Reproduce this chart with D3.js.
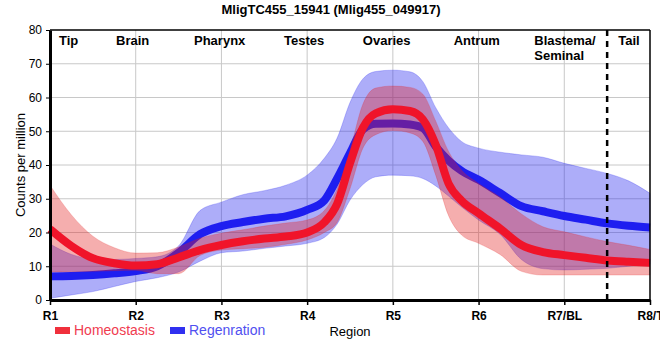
<!DOCTYPE html>
<html>
<head>
<meta charset="utf-8">
<script src="https://cdn.jsdelivr.net/npm/d3@7"></script>
<style>
body { margin: 0; background: #fff; }
svg { font-family: "Liberation Sans", Arial, sans-serif; }
.grid line { stroke: #c8c8c8; stroke-width: 1; }
.axis path, .axis line { stroke: #000; }
.axis text { fill: #000; }
</style>
</head>
<body>
<svg id="chart" width="660" height="360"></svg>
<script>
// region positions along the body (1 = R1 ... 8 = R8/Tail)
const positions = [1, 1.25, 1.5, 1.75, 2, 2.25, 2.5, 2.75, 3, 3.25, 3.5, 3.75, 4, 4.2, 4.35, 4.5, 4.65, 4.8,
                   5, 5.2, 5.35, 5.5, 5.65, 5.8, 6, 6.25, 6.5, 6.75, 7, 7.25, 7.5, 7.75, 8];

const homeoMean = [21, 16, 12.4, 10.9, 10.2, 10.6, 12.6, 14.8, 16.3, 17.4, 18.2, 18.8, 20, 23, 28.5, 40.5, 51, 55.3,
                   56.5, 56, 53.5, 46, 34.5, 29.5, 25.7, 21.2, 16.3, 14.2, 13.3, 12.5, 11.7, 11.3, 11];
const homeoHigh = [34, 25.2, 18.9, 15.5, 13.9, 14, 15.7, 18.3, 19.8, 20.8, 21.9, 22.8, 23.7, 26.5, 33, 44.4, 58, 62.8,
                   63.4, 63, 61, 53, 44, 38.5, 34.5, 30.5, 25.5, 21.7, 20.2, 18.7, 17.3, 16.2, 15];
const homeoLow = [8.3, 8.4, 8.5, 8.7, 8.8, 7.8, 7.8, 13.2, 14.8, 15.2, 15.6, 16.5, 17.8, 20, 23, 33, 45, 49,
                  50.2, 49.5, 47, 37, 25, 19.3, 16.8, 13.5, 8.5, 7.4, 7.4, 7.4, 7.4, 7.4, 7.4];

const regenMean = [7, 7.1, 7.4, 7.9, 8.6, 10, 14, 19.5, 21.9, 23.1, 24.1, 24.8, 26.7, 29.5, 36, 43.5, 50.5, 52.2,
                   52.3, 52, 51, 45.5, 41.3, 38.3, 35.6, 31.7, 27.8, 26.3, 24.9, 23.8, 22.7, 22, 21.5];
const regenHigh = [16.6, 13.5, 12.2, 12, 12.3, 12.8, 16, 26.5, 29, 31.2, 32.4, 34, 37, 42, 48, 58.5, 65.5, 67.7,
                   68.1, 67.6, 64.7, 57, 51, 47, 45, 43.8, 43, 42.3, 40.5, 39, 37.5, 35.3, 31.6];
const regenLow = [0.5, 1.5, 2.5, 4, 5.5, 6.6, 8.3, 11.5, 14, 14.5, 15.3, 16, 16.8, 18.5, 22.5, 29.6, 34.2, 36.5,
                  37, 36.8, 36, 33.8, 30.8, 27.6, 23.7, 19.5, 12, 9.3, 8.9, 9.1, 9.4, 10, 10.6];

const tickLabels = ["R1", "R2", "R3", "R4", "R5", "R6", "R7/BL", "R8/T"];
const regionNames = [["Tip"], ["Brain"], ["Pharynx"], ["Testes"], ["Ovaries"], ["Antrum"], ["Blastema/", "Seminal"], ["Tail"]];
const tailBoundary = 7.5;

// layout
const regionAnchor = [1.105, 1.77, 2.68, 3.73, 4.65, 5.71, 6.65, 7.63];
const plotLeft = 50, plotRight = 650, plotTop = 30, plotBottom = 300;

const svg = d3.select('#chart');
const x = d3.scaleLinear().domain([1, 8]).range([plotLeft, plotRight]);
const y = d3.scaleLinear().domain([0, 80]).range([plotBottom, plotTop]);

// grid
const grid = svg.append('g').attr('class', 'grid');
grid.selectAll('.gy').data(d3.range(10, 80, 10)).enter().append('line')
    .attr('x1', plotLeft).attr('x2', plotRight)
    .attr('y1', d => y(d)).attr('y2', d => y(d));
grid.selectAll('.gx').data(d3.range(2, 8)).enter().append('line')
    .attr('x1', d => x(d)).attr('x2', d => x(d))
    .attr('y1', plotTop).attr('y2', plotBottom);

const rows = positions.map((p, i) => ({
    p: p,
    hm: homeoMean[i], hh: homeoHigh[i], hl: homeoLow[i],
    rm: regenMean[i], rh: regenHigh[i], rl: regenLow[i]
}));

const curve = d3.curveMonotoneX;
const band = (hi, lo) => d3.area().curve(curve)
    .x(d => x(d.p)).y0(d => y(d[lo])).y1(d => y(d[hi]));
const line = key => d3.line().curve(curve).x(d => x(d.p)).y(d => y(d[key]));

// regeneration band + line, then homeostasis band + line on top
svg.append('path').datum(rows).attr('d', band('rh', 'rl'))
    .attr('fill', 'rgb(40,40,240)').attr('fill-opacity', 0.38)
    .attr('stroke', 'rgb(40,40,240)').attr('stroke-opacity', 0.25);
svg.append('path').datum(rows).attr('d', line('rm'))
    .attr('fill', 'none').attr('stroke', '#1e1ef0').attr('stroke-width', 8);

svg.append('path').datum(rows).attr('d', band('hh', 'hl'))
    .attr('fill', 'rgb(228,30,30)').attr('fill-opacity', 0.36)
    .attr('stroke', 'rgb(228,30,30)').attr('stroke-opacity', 0.2);
svg.append('path').datum(rows).attr('d', line('hm'))
    .attr('fill', 'none').attr('stroke', '#f0142a').attr('stroke-width', 8);

// tail boundary
svg.append('line')
    .attr('x1', x(tailBoundary)).attr('x2', x(tailBoundary))
    .attr('y1', plotTop).attr('y2', plotBottom + 4)
    .attr('stroke', '#000').attr('stroke-width', 2.5).attr('stroke-dasharray', '6,5');

// frame
svg.append('line').attr('x1', plotLeft).attr('x2', plotRight).attr('y1', plotTop).attr('y2', plotTop)
    .attr('stroke', '#000').attr('stroke-width', 1.5);
svg.append('line').attr('x1', plotRight).attr('x2', plotRight).attr('y1', plotTop).attr('y2', plotBottom)
    .attr('stroke', '#000').attr('stroke-width', 1.5);

// axes
const yAxis = svg.append('g').attr('class', 'axis')
    .attr('transform', 'translate(' + plotLeft + ',0)')
    .call(d3.axisLeft(y).tickValues(d3.range(0, 81, 10)).tickSize(4).tickSizeOuter(0));
yAxis.select('.domain').attr('stroke-width', 3);
yAxis.selectAll('text').attr('font-size', 12).attr('dx', '-1');

const xAxis = svg.append('g').attr('class', 'axis')
    .attr('transform', 'translate(0,' + plotBottom + ')')
    .call(d3.axisBottom(x).tickValues(d3.range(1, 9)).tickFormat((d, i) => tickLabels[i]).tickSize(5).tickSizeOuter(0));
xAxis.select('.domain').attr('stroke-width', 3);
xAxis.selectAll('line').attr('stroke-width', 1.5);
xAxis.selectAll('text').attr('font-size', 12).attr('font-weight', 'bold').attr('dy', '1.0em');

// region names along the top
const names = svg.append('g');
regionNames.forEach((lines, i) => {
    const t = names.append('text')
        .attr('x', x(regionAnchor[i])).attr('y', plotTop + 15)
        .attr('font-size', 13).attr('font-weight', 'bold');
    lines.forEach((s, j) => {
        t.append('tspan').attr('x', x(regionAnchor[i])).attr('dy', j ? 15 : 0).text(s);
    });
});

// title and axis labels
svg.append('text').attr('x', 331).attr('y', 14).attr('text-anchor', 'middle')
    .attr('font-size', 13).attr('font-weight', 'bold')
    .text('MligTC455_15941 (Mlig455_049917)');
svg.append('text').attr('transform', 'translate(25,' + ((plotTop + plotBottom) / 2) + ') rotate(-90)')
    .attr('text-anchor', 'middle').attr('font-size', 13)
    .text('Counts per million');
svg.append('text').attr('x', (plotLeft + plotRight) / 2).attr('y', 336).attr('text-anchor', 'middle')
    .attr('font-size', 13).text('Region');

// legend
const legend = [
    { name: 'Homeostasis', box: '#f0303c', text: '#f03c50', x: 55 },
    { name: 'Regenration', box: '#3030f0', text: '#5050f0', x: 170 }
];
const lg = svg.append('g').selectAll('g').data(legend).enter().append('g')
    .attr('transform', d => 'translate(' + d.x + ',330)');
lg.append('rect').attr('x', 0).attr('y', -3).attr('width', 15).attr('height', 7).attr('fill', d => d.box);
lg.append('text').attr('x', 19).attr('y', 5).attr('font-size', 14)
    .attr('fill', d => d.text).text(d => d.name);
</script>
</body>
</html>
